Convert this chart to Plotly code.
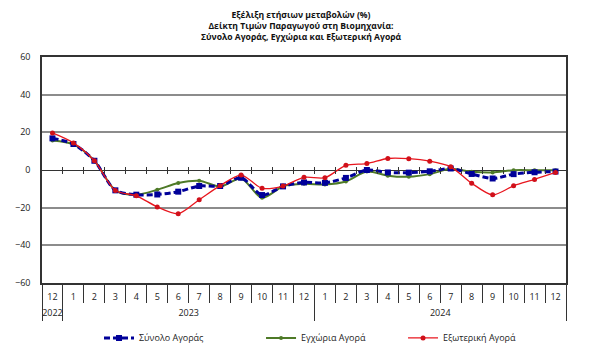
import plotly.graph_objects as go

months = ["12"] + [str(m) for m in range(1, 13)] + [str(m) for m in range(1, 13)]
year_labels = ["2022", "2023", "2024"]
year_first_idx = [0, 1, 13]          # first month index of each year group
year_last_idx = [0, 12, 24]          # last month index of each year group

total = [16.8, 13.8, 4.9, -10.8, -13.1, -13.0, -11.5, -8.5, -8.5, -4.1, -13.3, -8.7,
         -6.6, -6.8, -4.2, 0.0, -1.3, -1.4, -0.7, 0.8, -2.1, -4.5, -2.2, -1.2, -0.8]
domestic = [15.7, 13.6, 4.9, -10.8, -13.1, -10.5, -6.9, -5.7, -8.8, -4.5, -14.8, -8.6,
            -7.3, -7.7, -6.1, -0.8, -3.0, -3.6, -2.2, 0.6, -0.9, -1.3, -0.1, -0.1, -0.1]
external = [19.7, 14.4, 4.9, -10.9, -13.7, -19.6, -23.2, -15.8, -8.3, -2.7, -9.7, -8.5,
            -3.9, -4.1, 2.5, 3.4, 6.1, 6.0, 4.7, 1.7, -7.0, -13.2, -8.4, -5.0, -1.3]

names = ["Σύνολο Αγοράς", "Εγχώρια Αγορά", "Εξωτερική Αγορά"]
y_ticks = [-60, -40, -20, 0, 20, 40, 60]

FONT = "Open Sans"
n = len(months)
xi = list(range(n))

# the page body adds an 8px offset; size the figure to fit the 600x355 window
W, H = 592, 347

fig = go.Figure()
fig.add_trace(go.Scatter(
    x=xi, y=domestic, name=names[1], mode="lines+markers", legend="legend2",
    line=dict(color="#4E7A27", width=2, shape="spline", smoothing=0.8),
    marker=dict(symbol="circle", size=4, color="#4E7A27"),
))
fig.add_trace(go.Scatter(
    x=xi, y=total, name=names[0], mode="lines+markers", legend="legend",
    line=dict(color="#000099", width=3, dash="6px,3px", shape="spline", smoothing=0.8),
    marker=dict(symbol="square", size=6, color="#000099"),
))
fig.add_trace(go.Scatter(
    x=xi, y=external, name=names[2], mode="lines+markers", legend="legend3",
    line=dict(color="#E8161E", width=1.3, shape="spline", smoothing=0.8),
    marker=dict(symbol="circle", size=5, color="#D0101A"),
))

# empty helper traces so that the auxiliary axes are rendered
for ax in ["x2", "x3", "x4", "x5", "x6"]:
    fig.add_trace(go.Scatter(x=[], y=[], xaxis=ax, yaxis="y", showlegend=False,
                             hoverinfo="skip", mode="lines"))

month_bounds = [i + 0.5 for i in range(n - 1)]
year_bounds = [year_first_idx[0] - 0.5] + [j + 0.5 for j in year_last_idx]
year_centers = [(a + b) / 2 for a, b in zip(year_first_idx, year_last_idx)]
xr = [-0.5, n - 0.5]

legend_common = dict(orientation="h", y=-0.243, yanchor="middle", itemwidth=30,
                     font=dict(family=FONT, size=9, color="#222"),
                     bgcolor="rgba(0,0,0,0)")

fig.update_layout(
    width=W, height=H,
    margin=dict(l=34, r=34, t=49, b=72, autoexpand=False),
    paper_bgcolor="white", plot_bgcolor="white",
    font=dict(family=FONT, size=9, color="#222"),
    title=dict(
        text="<b>Εξέλιξη ετήσιων μεταβολών (%)<br>Δείκτη Τιμών Παραγωγού στη Βιομηχανία:<br>Σύνολο Αγοράς, Εγχώρια και Εξωτερική Αγορά</b>",
        xref="container", x=(301 - 8) / W, xanchor="center",
        yref="container", y=1 - 9.5 / H, yanchor="middle",
        font=dict(family=FONT, size=8.6, color="#111"),
    ),
    showlegend=True,
    legend=dict(x=0.1088, xanchor="left", **legend_common),
    legend2=dict(x=0.418, xanchor="left", **legend_common),
    legend3=dict(x=0.689, xanchor="left", **legend_common),
    xaxis=dict(
        range=xr, autorange=False, tickmode="array", tickvals=xi, ticktext=months,
        ticks="", showline=True, linecolor="#333", linewidth=1.5, mirror=True,
        showgrid=False, zeroline=False, ticklabelstandoff=4,
        tickfont=dict(family=FONT, size=9, color="#222"),
    ),
    xaxis2=dict(
        overlaying="x", anchor="y", side="bottom", range=xr, autorange=False,
        tickmode="array", tickvals=month_bounds, ticks="outside", ticklen=19,
        tickcolor="#333", tickwidth=1, showticklabels=False, showline=False,
        showgrid=False, zeroline=False,
    ),
    xaxis3=dict(
        overlaying="x", anchor="y", side="bottom", range=xr, autorange=False,
        tickmode="array", tickvals=year_centers, ticktext=year_labels, ticks="",
        ticklabelstandoff=23, showline=False, showgrid=False, zeroline=False,
        tickfont=dict(family=FONT, size=9, color="#222"),
    ),
    xaxis4=dict(
        overlaying="x", anchor="y", side="bottom", range=xr, autorange=False,
        tickmode="array", tickvals=year_bounds, ticks="outside", ticklen=37,
        tickcolor="#333", tickwidth=1.2, showticklabels=False, showline=False,
        showgrid=False, zeroline=False,
    ),
    xaxis5=dict(
        overlaying="x", anchor="free", position=0.5, range=xr, autorange=False,
        tickmode="array", tickvals=month_bounds, ticks="outside", ticklen=3,
        tickcolor="#333", showticklabels=False, showline=False, showgrid=False,
        zeroline=False,
    ),
    xaxis6=dict(
        overlaying="x", anchor="free", position=0.5, range=xr, autorange=False,
        tickmode="array", tickvals=month_bounds, ticks="inside", ticklen=3,
        tickcolor="#333", showticklabels=False, showline=False, showgrid=False,
        zeroline=False,
    ),
    yaxis=dict(
        range=[-60, 60], autorange=False, tickmode="array", tickvals=y_ticks,
        showgrid=True, gridcolor="#8C8C8C", gridwidth=1.5,
        zeroline=True, zerolinecolor="#333", zerolinewidth=1.3,
        showline=True, linecolor="#333", linewidth=1.5, mirror=True,
        ticks="", ticklabelstandoff=8,
        tickfont=dict(family=FONT, size=9, color="#222"),
    ),
)

fig.write_html("out.html")
